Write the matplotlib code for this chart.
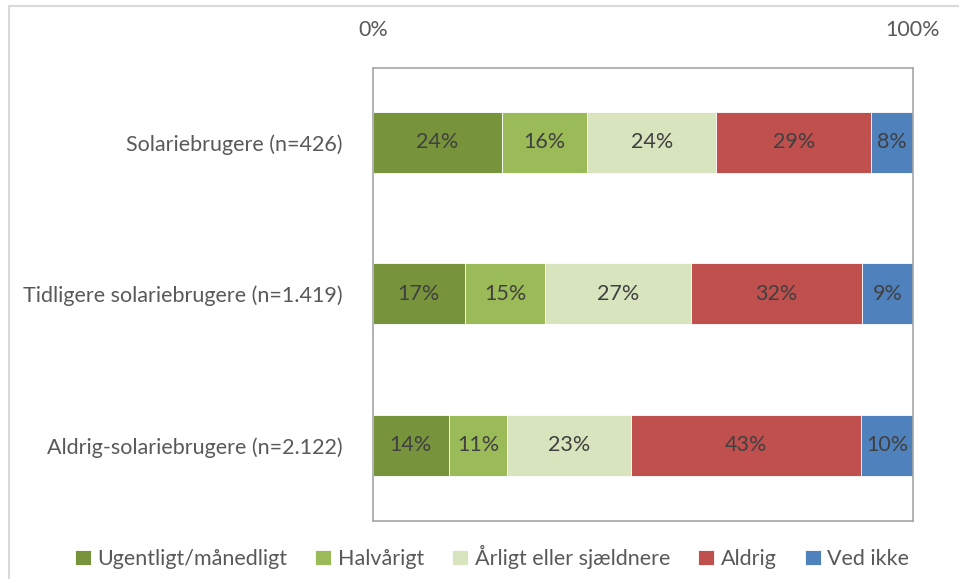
import matplotlib
matplotlib.use("Agg")
import matplotlib.pyplot as plt
from matplotlib.lines import Line2D
import numpy as np

categories = ["Solariebrugere (n=426)",
              "Tidligere solariebrugere (n=1.419)",
              "Aldrig-solariebrugere (n=2.122)"]
series = ["Ugentligt/månedligt", "Halvårigt", "Årligt eller sjældnere", "Aldrig", "Ved ikke"]
ugentligt = [23.9, 17.0, 14.0]
halvaarigt = [15.8, 14.9, 10.9]
aarligt = [23.9, 26.9, 22.8]
aldrig = [28.7, 31.8, 42.7]
ved_ikke = [7.7, 9.4, 9.6]
colors = ["#77933C", "#9BBB59", "#D7E4BD", "#C0504D", "#4F81BD"]

plt.rcParams['font.family'] = ['Lato', 'DejaVu Sans']

fig = plt.figure(figsize=(9.59, 5.79), dpi=100)
ax = fig.add_axes([373 / 959, 1 - 521 / 579, 540 / 959, 453 / 579])

y = np.arange(len(categories))
left = np.zeros(len(categories))
for name, vals, c in zip(series, [ugentligt, halvaarigt, aarligt, aldrig, ved_ikke], colors):
    vals = np.array(vals) / 100
    ax.barh(y, vals, left=left, height=0.4, color=c, label=name,
            edgecolor='white', linewidth=0.6)
    for yi, l, v in zip(y, left, vals):
        ax.text(l + v / 2, yi, f"{v * 100:.0f}%", ha='center', va='center',
                fontsize=15.5, color='#404040')
    left += vals

ax.set_xlim(0, 1)
ax.set_ylim(2.5, -0.49)
ax.set_yticks(y)
ax.set_yticklabels(categories, fontsize=15.5, color='#595959')
ax.set_xticks([0, 1])
ax.set_xticklabels(["0%", "100%"], fontsize=15.5, color='#595959')
ax.xaxis.tick_top()
ax.tick_params(axis='x', length=0, pad=20)
ax.tick_params(axis='y', length=0, pad=22)
for s in ax.spines.values():
    s.set_color('#A6A6A6')
    s.set_linewidth(1.2)

fig.legend(loc='center', bbox_to_anchor=(0.513, 0.038), ncol=5, frameon=False,
           fontsize=15.5, handlelength=0.75, handleheight=0.75, handletextpad=0.3,
           columnspacing=1.3, labelcolor='#595959')

# outer chart-area frame (cropped)
fig.add_artist(Line2D([9 / 959, 1], [1 - 6 / 579, 1 - 6 / 579], color='#D9D9D9', lw=1.5))
fig.add_artist(Line2D([9 / 959, 9 / 959], [0, 1 - 6 / 579], color='#D9D9D9', lw=1.5))

fig.savefig('out.png', dpi=100)
